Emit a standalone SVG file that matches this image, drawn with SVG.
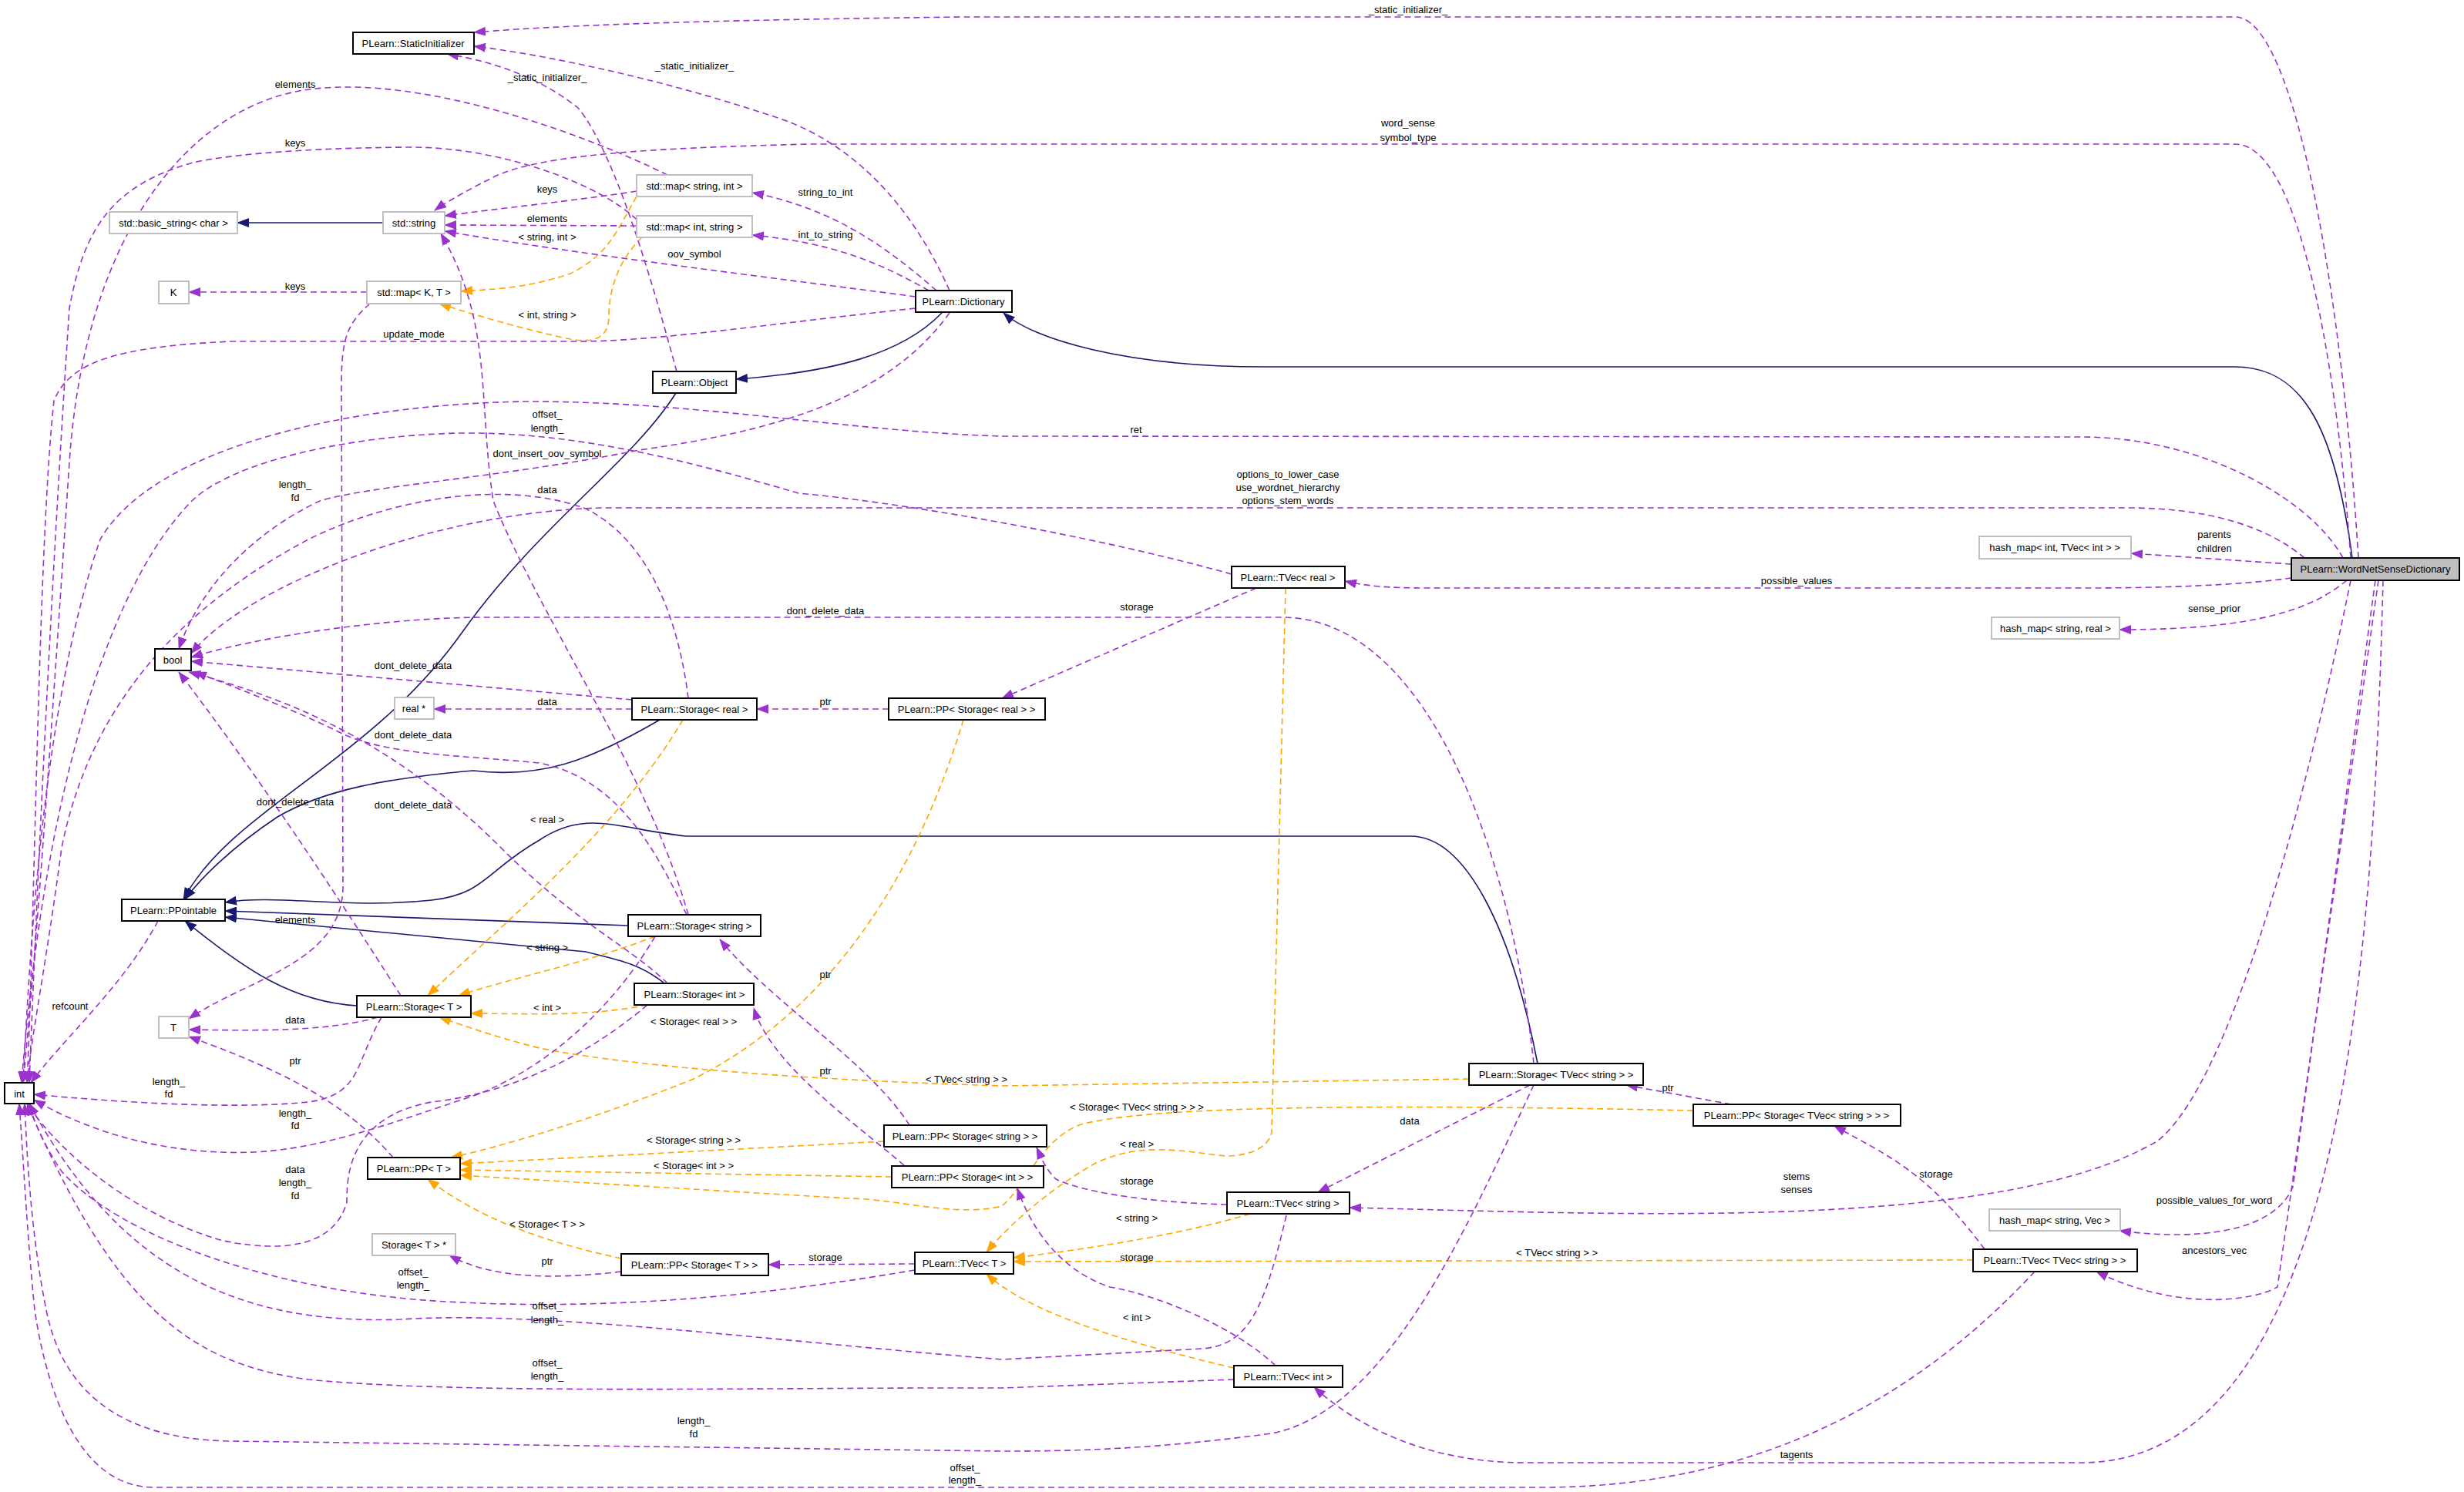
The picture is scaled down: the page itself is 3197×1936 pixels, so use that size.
<svg xmlns="http://www.w3.org/2000/svg" width="3197" height="1936" viewBox="0 0 3197 1936">
<style>
text{font-family:"Liberation Sans",Arial,sans-serif;font-size:13px;fill:#000;text-anchor:middle;dominant-baseline:central}
.n{fill:#fff;stroke:#000;stroke-width:2}
.g{fill:#fff;stroke:#bfbfbf;stroke-width:2}
.h{fill:#bfbfbf;stroke:#000;stroke-width:2}
.p{fill:none;stroke:#9a32cd;stroke-width:1.6;stroke-dasharray:8,5;marker-end:url(#mp)}
.o{fill:none;stroke:#ffa500;stroke-width:1.6;stroke-dasharray:8,5;marker-end:url(#mo)}
.b{fill:none;stroke:#191970;stroke-width:1.6;marker-end:url(#mb)}
</style>
<defs>
<marker id="mp" markerWidth="16" markerHeight="12" refX="15" refY="6" orient="auto" markerUnits="userSpaceOnUse"><path d="M0,0 L16,6 L0,12 z" fill="#9a32cd"/></marker>
<marker id="mo" markerWidth="16" markerHeight="12" refX="15" refY="6" orient="auto" markerUnits="userSpaceOnUse"><path d="M0,0 L16,6 L0,12 z" fill="#ffa500"/></marker>
<marker id="mb" markerWidth="16" markerHeight="12" refX="15" refY="6" orient="auto" markerUnits="userSpaceOnUse"><path d="M0,0 L16,6 L0,12 z" fill="#191970"/></marker>
</defs>
<rect width="3197" height="1936" fill="#fff"/>
<g id="edges">
<path class="b" d="M497,289 L308,289"/>
<path class="b" d="M1222,406 C1170,460 1080,483 955,492"/>
<path class="b" d="M3052,724 C3030,560 2990,476 2900,476 L1640,476 C1460,476 1340,440 1302,406"/>
<path class="b" d="M877,510 C820,600 700,680 600,820 C480,990 300,1050 238,1167"/>
<path class="b" d="M856,934 C760,990 700,1010 614,1000 C500,1010 420,1025 360,1060 C300,1100 260,1140 240,1167"/>
<path class="b" d="M1995,1380 C1960,1200 1900,1085 1830,1085 L890,1085 C800,1075 760,1050 700,1090 C630,1130 630,1160 560,1168 C450,1180 360,1160 292,1171"/>
<path class="b" d="M815,1201 L292,1182"/>
<path class="b" d="M862,1276 C830,1250 800,1245 760,1235 L292,1190"/>
<path class="b" d="M463,1305 C380,1300 320,1260 240,1195"/>
<path class="o" d="M826,255 C800,300 790,330 740,355 C680,375 640,375 598,378"/>
<path class="o" d="M833,308 C800,340 790,380 790,410 C790,440 770,445 740,440 C690,430 620,410 570,394"/>
<path class="o" d="M886,934 C800,1080 650,1200 555,1292"/>
<path class="o" d="M850,1215 C760,1250 660,1270 595,1292"/>
<path class="o" d="M840,1304 C760,1320 680,1315 611,1315"/>
<path class="o" d="M1906,1400 L1300,1409 C1000,1400 800,1380 700,1360 C640,1345 600,1330 570,1320"/>
<path class="o" d="M1250,934 C1200,1100 1100,1300 900,1400 C750,1460 640,1490 585,1502"/>
<path class="o" d="M1147,1481 L597,1510"/>
<path class="o" d="M1157,1527 L597,1518"/>
<path class="o" d="M2197,1441 C1900,1435 1500,1430 1400,1460 C1350,1480 1330,1540 1300,1565 C1240,1580 1160,1555 1100,1555 L597,1525"/>
<path class="o" d="M1668,763 L1650,1470 C1645,1490 1620,1500 1590,1500 C1540,1495 1480,1480 1420,1510 C1350,1550 1300,1600 1280,1625"/>
<path class="o" d="M1622,1575 C1540,1600 1420,1620 1315,1632"/>
<path class="o" d="M2560,1635 L1315,1637"/>
<path class="o" d="M1601,1775 C1450,1740 1330,1700 1280,1653"/>
<path class="o" d="M806,1633 C700,1610 620,1580 555,1530"/>
<path class="p" d="M1232,377 C1180,260 1100,180 1000,150 C850,100 700,70 615,60"/>
<path class="p" d="M3060,724 C3040,400 2980,22 2900,22 L1250,22 C1000,25 760,30 615,42"/>
<path class="p" d="M3050,724 C3030,450 2980,187 2900,187 L1050,187 C850,192 700,200 640,230 C600,250 575,265 564,273"/>
<path class="p" d="M878,482 C850,380 800,200 750,140 C700,100 640,80 580,70"/>
<path class="p" d="M1215,377 C1150,320 1080,270 976,250"/>
<path class="p" d="M1205,377 C1140,340 1080,315 976,305"/>
<path class="p" d="M1188,385 C1000,360 750,330 577,300"/>
<path class="p" d="M1188,400 C1000,420 850,443 750,443 L300,443 C150,450 90,470 70,520 C50,700 45,1200 35,1405"/>
<path class="p" d="M1232,406 C1150,520 1000,560 829,584 C650,620 480,630 415,650 C330,690 260,760 232,842"/>
<path class="p" d="M3040,724 C3000,650 2860,567 2700,567 L1300,566 C1100,560 900,520 680,521 C450,525 200,580 130,700 C60,900 40,1200 30,1405"/>
<path class="p" d="M1598,745 C1400,690 1150,650 1036,640 C900,600 750,560 597,562 C450,565 300,600 249,650 C150,750 60,1000 28,1405"/>
<path class="p" d="M2990,724 C2950,690 2880,659 2760,659 L780,659 C560,665 320,760 248,848"/>
<path class="p" d="M2973,732 L2765,718"/>
<path class="p" d="M2973,750 C2900,760 2800,763 2700,763 L1850,763 C1800,763 1770,760 1745,754"/>
<path class="p" d="M3045,753 C3000,790 2930,817 2750,817"/>
<path class="p" d="M3050,753 C3000,1000 2900,1400 2800,1480 C2600,1600 2100,1575 1751,1567"/>
<path class="p" d="M3082,753 L2975,1540 C2950,1600 2850,1610 2750,1597"/>
<path class="p" d="M3086,753 L2955,1670 C2920,1690 2820,1700 2720,1650"/>
<path class="p" d="M3092,753 C3080,1200 3050,1898 2700,1898 L1980,1898 C1850,1898 1760,1850 1705,1800"/>
<path class="p" d="M1990,1408 C1900,1600 1800,1830 1650,1860 C1500,1880 1400,1883 1300,1883 L300,1870 C150,1868 80,1800 60,1700 C40,1600 35,1500 32,1432"/>
<path class="p" d="M2640,1650 C2500,1800 2300,1930 2000,1930 L200,1930 C100,1930 60,1800 45,1700 C35,1600 30,1500 25,1432"/>
<path class="p" d="M826,248 C750,260 650,270 577,280"/>
<path class="p" d="M826,293 L577,292"/>
<path class="p" d="M866,227 C750,170 550,100 410,115 C250,130 110,300 90,600 C70,900 50,1200 30,1405"/>
<path class="p" d="M826,285 C780,240 650,190 530,191 C400,192 300,200 250,211 C150,240 110,290 90,400 C70,700 50,1100 38,1405"/>
<path class="p" d="M476,379 L245,379"/>
<path class="p" d="M480,394 C450,420 443,440 443,500 L445,1150 C445,1250 320,1270 245,1322"/>
<path class="p" d="M820,920 L563,920"/>
<path class="p" d="M1153,920 L982,920"/>
<path class="p" d="M820,908 L248,858"/>
<path class="p" d="M893,906 C880,800 840,700 760,660 C650,620 500,650 400,700 C250,780 120,900 80,1100 C60,1250 40,1350 35,1405"/>
<path class="p" d="M893,1187 C840,1000 700,800 640,650 C620,520 640,420 572,303"/>
<path class="p" d="M891,1187 C850,1100 800,1010 700,990 C600,980 500,980 440,950 C380,920 300,890 253,872"/>
<path class="p" d="M866,1276 C820,1230 750,1200 650,1100 C500,950 350,900 245,872"/>
<path class="p" d="M520,1292 C430,1150 330,1000 232,872"/>
<path class="p" d="M490,1320 C420,1340 320,1337 245,1336"/>
<path class="p" d="M495,1320 C460,1380 470,1420 400,1430 C300,1440 150,1430 44,1420"/>
<path class="p" d="M510,1502 C440,1420 340,1380 245,1345"/>
<path class="p" d="M205,1195 C160,1280 80,1350 40,1405"/>
<path class="p" d="M850,1215 C800,1300 720,1380 620,1420 C500,1460 420,1490 330,1495 C200,1500 100,1460 44,1427"/>
<path class="p" d="M840,1304 C750,1380 650,1420 560,1430 C450,1450 450,1530 450,1560 C430,1630 340,1620 290,1610 C180,1580 80,1500 35,1432"/>
<path class="p" d="M806,1650 C720,1660 640,1660 583,1629"/>
<path class="p" d="M1187,1640 L997,1641"/>
<path class="p" d="M1187,1648 C1000,1680 800,1700 600,1690 C350,1680 150,1600 80,1520 C60,1490 45,1460 38,1432"/>
<path class="p" d="M1669,1577 C1640,1700 1620,1745 1560,1750 L1300,1764 C1000,1740 700,1700 520,1712 C300,1720 150,1640 38,1432"/>
<path class="p" d="M1601,1790 L1300,1801 C1000,1800 600,1810 400,1790 C250,1770 150,1700 35,1432"/>
<path class="p" d="M1630,763 L1300,906"/>
<path class="p" d="M1990,1380 C1960,1100 1850,801 1663,801 L620,801 C480,803 320,830 248,853"/>
<path class="p" d="M2246,1433 L2110,1408"/>
<path class="p" d="M1985,1408 L1710,1547"/>
<path class="p" d="M2575,1621 C2500,1520 2450,1500 2380,1461"/>
<path class="p" d="M1592,1563 C1480,1560 1400,1545 1370,1530 C1355,1515 1350,1500 1345,1489"/>
<path class="p" d="M1655,1772 C1600,1720 1500,1680 1440,1670 C1380,1650 1340,1600 1320,1542"/>
<path class="p" d="M1180,1460 C1130,1380 1000,1300 934,1219"/>
<path class="p" d="M1173,1512 C1100,1450 1000,1380 978,1308"/>
</g>
<g id="labels">
<text x="1827" y="12">_static_initializer_</text>
<text x="901" y="85">_static_initializer_</text>
<text x="710" y="100">_static_initializer_</text>
<text x="383" y="109">elements</text>
<text x="1827" y="159">word_sense</text>
<text x="1827" y="178">symbol_type</text>
<text x="383" y="185">keys</text>
<text x="710" y="245">keys</text>
<text x="1071" y="249">string_to_int</text>
<text x="710" y="283">elements</text>
<text x="1071" y="304">int_to_string</text>
<text x="710" y="307">&lt; string, int &gt;</text>
<text x="901" y="329">oov_symbol</text>
<text x="383" y="371">keys</text>
<text x="710" y="408">&lt; int, string &gt;</text>
<text x="537" y="433">update_mode</text>
<text x="710" y="537">offset_</text>
<text x="710" y="555">length_</text>
<text x="1474" y="557">ret</text>
<text x="710" y="588">dont_insert_oov_symbol</text>
<text x="1671" y="615">options_to_lower_case</text>
<text x="1671" y="632">use_wordnet_hierarchy</text>
<text x="1671" y="649">options_stem_words</text>
<text x="383" y="628">length_</text>
<text x="383" y="645">fd</text>
<text x="710" y="635">data</text>
<text x="2873" y="693">parents</text>
<text x="2873" y="711">children</text>
<text x="2331" y="753">possible_values</text>
<text x="1475" y="787">storage</text>
<text x="2873" y="789">sense_prior</text>
<text x="1071" y="792">dont_delete_data</text>
<text x="536" y="863">dont_delete_data</text>
<text x="710" y="910">data</text>
<text x="1071" y="910">ptr</text>
<text x="536" y="953">dont_delete_data</text>
<text x="383" y="1040">dont_delete_data</text>
<text x="536" y="1044">dont_delete_data</text>
<text x="710" y="1063">&lt; real &gt;</text>
<text x="383" y="1193">elements</text>
<text x="710" y="1229">&lt; string &gt;</text>
<text x="1071" y="1264">ptr</text>
<text x="91" y="1305">refcount</text>
<text x="710" y="1307">&lt; int &gt;</text>
<text x="383" y="1323">data</text>
<text x="900" y="1325">&lt; Storage&lt; real &gt; &gt;</text>
<text x="383" y="1376">ptr</text>
<text x="1071" y="1389">ptr</text>
<text x="1254" y="1400">&lt; TVec&lt; string &gt; &gt;</text>
<text x="219" y="1403">length_</text>
<text x="219" y="1419">fd</text>
<text x="2164" y="1411">ptr</text>
<text x="1475" y="1436">&lt; Storage&lt; TVec&lt; string &gt; &gt; &gt;</text>
<text x="383" y="1444">length_</text>
<text x="383" y="1460">fd</text>
<text x="1829" y="1454">data</text>
<text x="900" y="1479">&lt; Storage&lt; string &gt; &gt;</text>
<text x="1475" y="1484">&lt; real &gt;</text>
<text x="900" y="1512">&lt; Storage&lt; int &gt; &gt;</text>
<text x="383" y="1517">data</text>
<text x="383" y="1534">length_</text>
<text x="383" y="1551">fd</text>
<text x="2331" y="1526">stems</text>
<text x="2331" y="1543">senses</text>
<text x="2512" y="1523">storage</text>
<text x="1475" y="1532">storage</text>
<text x="2873" y="1557">possible_values_for_word</text>
<text x="1475" y="1580">&lt; string &gt;</text>
<text x="2873" y="1622">ancestors_vec</text>
<text x="2020" y="1625">&lt; TVec&lt; string &gt; &gt;</text>
<text x="1475" y="1631">storage</text>
<text x="1071" y="1631">storage</text>
<text x="710" y="1636">ptr</text>
<text x="710" y="1588">&lt; Storage&lt; T &gt; &gt;</text>
<text x="536" y="1650">offset_</text>
<text x="536" y="1667">length_</text>
<text x="710" y="1694">offset_</text>
<text x="710" y="1712">length_</text>
<text x="1475" y="1709">&lt; int &gt;</text>
<text x="710" y="1768">offset_</text>
<text x="710" y="1785">length_</text>
<text x="900" y="1843">length_</text>
<text x="900" y="1860">fd</text>
<text x="2331" y="1887">tagents</text>
<text x="1252" y="1904">offset_</text>
<text x="1252" y="1920">length_</text>
</g>
<g id="n_static"><rect class="n" x="458" y="42" width="157" height="28"/><text x="536" y="56">PLearn::StaticInitializer</text></g>
<g id="n_basic"><rect class="g" x="142" y="275" width="166" height="28"/><text x="225" y="289">std::basic_string&lt; char &gt;</text></g>
<g id="n_string"><rect class="g" x="497" y="275" width="80" height="28"/><text x="537" y="289">std::string</text></g>
<g id="n_mapsi"><rect class="g" x="826" y="227" width="150" height="28"/><text x="901" y="241">std::map&lt; string, int &gt;</text></g>
<g id="n_mapis"><rect class="g" x="826" y="280" width="150" height="28"/><text x="901" y="294">std::map&lt; int, string &gt;</text></g>
<g id="n_K"><rect class="g" x="206" y="365" width="39" height="29"/><text x="225" y="379">K</text></g>
<g id="n_mapKT"><rect class="g" x="476" y="365" width="122" height="29"/><text x="537" y="379">std::map&lt; K, T &gt;</text></g>
<g id="n_dict"><rect class="n" x="1188" y="377" width="125" height="28"/><text x="1250" y="391">PLearn::Dictionary</text></g>
<g id="n_object"><rect class="n" x="847" y="482" width="108" height="28"/><text x="901" y="496">PLearn::Object</text></g>
<g id="n_bool"><rect class="n" x="201" y="842" width="47" height="28"/><text x="224" y="856">bool</text></g>
<g id="n_realp"><rect class="g" x="512" y="905" width="51" height="28"/><text x="537" y="919">real *</text></g>
<g id="n_storreal"><rect class="n" x="820" y="906" width="162" height="28"/><text x="901" y="920">PLearn::Storage&lt; real &gt;</text></g>
<g id="n_ppstorreal"><rect class="n" x="1153" y="906" width="203" height="28"/><text x="1254" y="920">PLearn::PP&lt; Storage&lt; real &gt; &gt;</text></g>
<g id="n_ppointable"><rect class="n" x="158" y="1167" width="134" height="28"/><text x="225" y="1181">PLearn::PPointable</text></g>
<g id="n_storstring"><rect class="n" x="815" y="1187" width="172" height="28"/><text x="901" y="1201">PLearn::Storage&lt; string &gt;</text></g>
<g id="n_storint"><rect class="n" x="823" y="1276" width="155" height="28"/><text x="901" y="1290">PLearn::Storage&lt; int &gt;</text></g>
<g id="n_storT"><rect class="n" x="463" y="1292" width="148" height="28"/><text x="537" y="1306">PLearn::Storage&lt; T &gt;</text></g>
<g id="n_T"><rect class="g" x="206" y="1319" width="39" height="28"/><text x="225" y="1333">T</text></g>
<g id="n_int"><rect class="n" x="6" y="1405" width="38" height="27"/><text x="25" y="1419">int</text></g>
<g id="n_ppT"><rect class="n" x="477" y="1502" width="120" height="28"/><text x="537" y="1516">PLearn::PP&lt; T &gt;</text></g>
<g id="n_storTp"><rect class="g" x="483" y="1601" width="108" height="28"/><text x="537" y="1615">Storage&lt; T &gt; *</text></g>
<g id="n_ppstorT"><rect class="n" x="806" y="1627" width="191" height="28"/><text x="901" y="1641">PLearn::PP&lt; Storage&lt; T &gt; &gt;</text></g>
<g id="n_ppstorstring"><rect class="n" x="1147" y="1460" width="211" height="28"/><text x="1252" y="1474">PLearn::PP&lt; Storage&lt; string &gt; &gt;</text></g>
<g id="n_ppstorint"><rect class="n" x="1157" y="1513" width="197" height="28"/><text x="1255" y="1527">PLearn::PP&lt; Storage&lt; int &gt; &gt;</text></g>
<g id="n_tvecT"><rect class="n" x="1187" y="1625" width="128" height="28"/><text x="1251" y="1639">PLearn::TVec&lt; T &gt;</text></g>
<g id="n_tvecreal"><rect class="n" x="1598" y="735" width="147" height="28"/><text x="1671" y="749">PLearn::TVec&lt; real &gt;</text></g>
<g id="n_hmint"><rect class="g" x="2568" y="696" width="197" height="29"/><text x="2666" y="710">hash_map&lt; int, TVec&lt; int &gt; &gt;</text></g>
<g id="n_wnsd"><rect class="h" x="2973" y="724" width="218" height="29"/><text x="3082" y="738">PLearn::WordNetSenseDictionary</text></g>
<g id="n_hmreal"><rect class="g" x="2584" y="801" width="166" height="28"/><text x="2667" y="815">hash_map&lt; string, real &gt;</text></g>
<g id="n_stortvec"><rect class="n" x="1906" y="1380" width="226" height="28"/><text x="2019" y="1394">PLearn::Storage&lt; TVec&lt; string &gt; &gt;</text></g>
<g id="n_ppstortvec"><rect class="n" x="2197" y="1433" width="269" height="28"/><text x="2331" y="1447">PLearn::PP&lt; Storage&lt; TVec&lt; string &gt; &gt; &gt;</text></g>
<g id="n_tvecstring"><rect class="n" x="1592" y="1547" width="159" height="28"/><text x="1671" y="1561">PLearn::TVec&lt; string &gt;</text></g>
<g id="n_hmvec"><rect class="g" x="2581" y="1569" width="170" height="28"/><text x="2666" y="1583">hash_map&lt; string, Vec &gt;</text></g>
<g id="n_tvectvec"><rect class="n" x="2560" y="1621" width="213" height="29"/><text x="2666" y="1635">PLearn::TVec&lt; TVec&lt; string &gt; &gt;</text></g>
<g id="n_tvecint"><rect class="n" x="1601" y="1772" width="141" height="28"/><text x="1671" y="1786">PLearn::TVec&lt; int &gt;</text></g>
</svg>
